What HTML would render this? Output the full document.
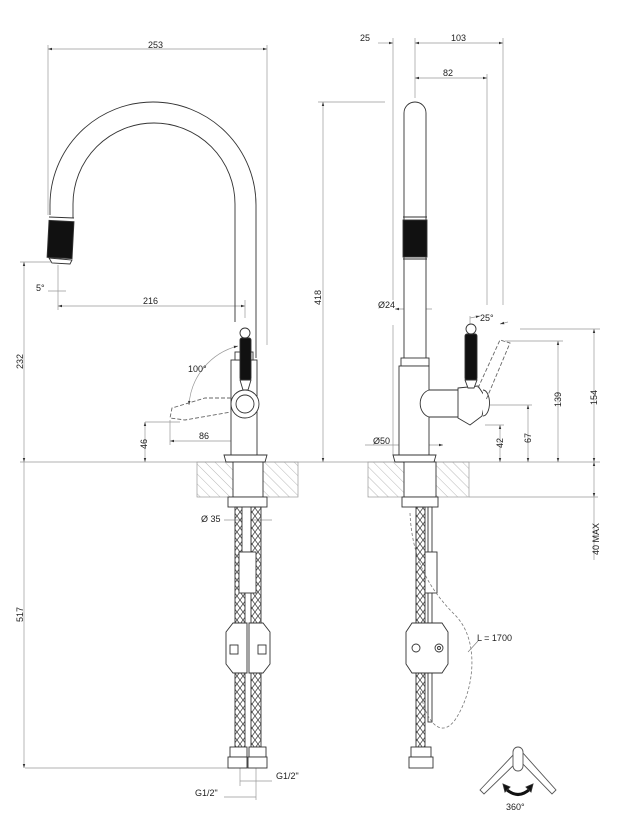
<!DOCTYPE html>
<html><head><style>
html,body{margin:0;padding:0;background:#fff}
svg{display:block}
text{font-family:"Liberation Sans",sans-serif;font-size:9px;fill:#222}
</style></head><body>
<svg width="621" height="827" viewBox="0 0 621 827" xmlns="http://www.w3.org/2000/svg">
<defs>
<pattern id="hatch" width="7" height="7" patternUnits="userSpaceOnUse" patternTransform="rotate(-45)">
<line x1="0" y1="0" x2="0" y2="7" stroke="#999" stroke-width="0.7"/></pattern>
<pattern id="braid" width="6" height="8" patternUnits="userSpaceOnUse">
<path d="M0,0 L6,8 M6,0 L0,8" stroke="#444" stroke-width="0.8"/></pattern>
<marker id="a" viewBox="0 0 10 10" refX="10" refY="5" markerWidth="6" markerHeight="6" orient="auto-start-reverse"><path d="M0,2 L10,5 L0,8z" fill="#333"/></marker>
</defs>

<g stroke="#999" stroke-width="0.7" fill="none">
<!-- floor line -->
<line x1="20" y1="462" x2="600" y2="462"/>
<!-- left dims -->
<line x1="48" y1="45" x2="48" y2="215"/>
<line x1="267" y1="45" x2="267" y2="345"/>
<line x1="48" y1="49" x2="267" y2="49" marker-start="url(#a)" marker-end="url(#a)"/>
<line x1="20" y1="262" x2="55" y2="262"/>
<line x1="24" y1="262" x2="24" y2="462" marker-start="url(#a)" marker-end="url(#a)"/>
<line x1="24" y1="462" x2="24" y2="768" marker-end="url(#a)"/>
<line x1="25" y1="768" x2="235" y2="768"/>
<line x1="58" y1="265" x2="58" y2="310"/>
<line x1="48" y1="291" x2="66" y2="291"/>
<line x1="58" y1="306" x2="245" y2="306" marker-start="url(#a)" marker-end="url(#a)"/>
<line x1="245" y1="300" x2="245" y2="318"/>
<line x1="145" y1="422" x2="180" y2="422"/>
<line x1="145" y1="422" x2="145" y2="462" marker-start="url(#a)" marker-end="url(#a)"/>
<line x1="170" y1="420" x2="170" y2="445"/>
<line x1="170" y1="441" x2="245" y2="441" marker-start="url(#a)" marker-end="url(#a)"/>
<path d="M238,346 A65,65 0 0 0 189,405" marker-start="url(#a)" marker-end="url(#a)"/>
<line x1="224" y1="520" x2="272" y2="520"/>
<line x1="240" y1="781" x2="272" y2="781"/>
<line x1="240" y1="768" x2="240" y2="786"/>
<line x1="224" y1="797" x2="256" y2="797"/>
<line x1="256" y1="768" x2="256" y2="800"/>
<!-- right dims -->
<line x1="393" y1="38" x2="393" y2="300"/>
<line x1="393" y1="325" x2="393" y2="455"/>
<line x1="415" y1="38" x2="415" y2="98"/>
<line x1="487" y1="74" x2="487" y2="305"/>
<line x1="503" y1="38" x2="503" y2="305"/>
<line x1="378" y1="43" x2="393" y2="43" marker-end="url(#a)"/>
<line x1="415" y1="43" x2="503" y2="43" marker-start="url(#a)" marker-end="url(#a)"/>
<line x1="415" y1="78" x2="487" y2="78" marker-start="url(#a)" marker-end="url(#a)"/>
<line x1="318" y1="102" x2="385" y2="102"/>
<line x1="323" y1="102" x2="323" y2="462" marker-start="url(#a)" marker-end="url(#a)"/>
<line x1="395" y1="309" x2="432" y2="309" marker-start="url(#a)"/>
<line x1="365" y1="445" x2="443" y2="445" marker-end="url(#a)"/>
<line x1="520" y1="329" x2="600" y2="329"/>
<line x1="505" y1="341" x2="563" y2="341"/>
<line x1="490" y1="405" x2="532" y2="405"/>
<line x1="485" y1="425" x2="504" y2="425"/>
<line x1="594" y1="329" x2="594" y2="462" marker-start="url(#a)" marker-end="url(#a)"/>
<line x1="558" y1="341" x2="558" y2="462" marker-start="url(#a)" marker-end="url(#a)"/>
<line x1="528" y1="405" x2="528" y2="462" marker-start="url(#a)" marker-end="url(#a)"/>
<line x1="500" y1="425" x2="500" y2="462" marker-start="url(#a)" marker-end="url(#a)"/>
<line x1="594" y1="462" x2="594" y2="497" marker-start="url(#a)" marker-end="url(#a)"/>
<line x1="469" y1="497" x2="598" y2="497"/>
<line x1="594" y1="497" x2="594" y2="560"/>
<line x1="470" y1="332" x2="470" y2="316"/>
<path d="M470,318 L480,316" marker-end="url(#a)"/>
<path d="M508,322 L500,324" marker-end="url(#a)"/>
</g>

<g font-size="9">
<text x="148" y="48">253</text>
<text x="36" y="291">5°</text>
<text x="143" y="304">216</text>
<text x="188" y="372">100°</text>
<text x="199" y="439">86</text>
<text transform="translate(23,369) rotate(-90)">232</text>
<text transform="translate(147,449) rotate(-90)">46</text>
<text transform="translate(23,622) rotate(-90)">517</text>
<text x="201" y="522">Ø 35</text>
<text x="276" y="779">G1/2"</text>
<text x="195" y="796">G1/2"</text>
<text x="360" y="41">25</text>
<text x="451" y="41">103</text>
<text x="443" y="76">82</text>
<text transform="translate(321,305) rotate(-90)">418</text>
<text x="378" y="308">Ø24</text>
<text x="373" y="444">Ø50</text>
<text x="480" y="321">25°</text>
<text transform="translate(561,407) rotate(-90)">139</text>
<text transform="translate(597,405) rotate(-90)">154</text>
<text transform="translate(531,443) rotate(-90)">67</text>
<text transform="translate(503,448) rotate(-90)">42</text>
<text transform="translate(599,555) rotate(-90)">40 MAX</text>
<text x="477" y="641">L = 1700</text>
<text x="506" y="810" font-size="10">360°</text>
</g>

<!-- countertops -->
<rect x="197" y="462" width="101" height="35" fill="url(#hatch)" stroke="#999" stroke-width="0.7"/>
<rect x="368" y="462" width="101" height="35" fill="url(#hatch)" stroke="#999" stroke-width="0.7"/>

<g stroke="#333" stroke-width="0.9" fill="#fff">
<!-- LEFT VIEW -->
<path d="M50,215 L50,205 A103,103 0 0 1 256,205 L256,358" fill="none"/>
<path d="M73,218 L73,204 A81,81 0 0 1 235,204 L235,322" fill="none"/>
<rect x="48" y="221" width="25" height="37" fill="#111" transform="rotate(3 60 240)"/>
<line x1="49" y1="217" x2="74" y2="218"/>
<path d="M49,258 L72,260 L70,264 L52,263z"/>
<!-- body -->
<rect x="231" y="360" width="26" height="95"/>
<rect x="235" y="352" width="18" height="8"/>
<path d="M224,455 L267,455 L265,462 L226,462z"/>
<circle cx="245" cy="333" r="5"/>
<rect x="240" y="338" width="11" height="42" fill="#111" rx="2"/>
<path d="M240,380 L251,380 L248,390 L243,390z"/>
<circle cx="245" cy="404" r="14"/>
<circle cx="245" cy="404" r="9"/>
<path d="M231,398 L205,398 L172,408 L170,418 L185,420 L231,412" fill="none" stroke-dasharray="4 2" stroke="#666"/>
<!-- below left -->
<rect x="233" y="462" width="30" height="35"/>
<rect x="228" y="497" width="39" height="10"/>
<rect x="235" y="507" width="10" height="240" fill="url(#braid)"/>
<rect x="251" y="507" width="10" height="240" fill="url(#braid)"/>
<rect x="242" y="507" width="9" height="45"/>
<rect x="239" y="552" width="17" height="41"/>
<path d="M226,632 L233,623 L247,623 L247,673 L233,673 L226,664z"/>
<path d="M270,632 L263,623 L249,623 L249,673 L263,673 L270,664z"/>
<rect x="230" y="645" width="8" height="9" fill="none"/>
<rect x="258" y="645" width="8" height="9" fill="none"/>
<rect x="230" y="747" width="17" height="10"/><rect x="249" y="747" width="17" height="10"/>
<rect x="228" y="757" width="19" height="11"/><rect x="248" y="757" width="19" height="11"/>

<!-- RIGHT VIEW -->
<path d="M404,358 L404,113 A11,11 0 0 1 426,113 L426,358"/>
<rect x="403" y="220" width="24" height="37" fill="#111"/>
<line x1="403" y1="217" x2="427" y2="217"/>
<line x1="403" y1="259" x2="427" y2="259"/>
<rect x="401" y="358" width="28" height="8"/>
<rect x="399" y="366" width="30" height="89"/>
<path d="M393,455 L436,455 L434,462 L395,462z"/>
<path d="M429,390 L462,390 L462,417 L429,417 A12,14 0 0 1 429,390z"/>
<path d="M458,388 L478,386 L486,398 L482,416 L470,425 L458,418z"/>
<path d="M483,390 A6,12 0 0 1 483,416"/>
<circle cx="471" cy="329" r="5"/>
<rect x="465" y="334" width="12" height="46" fill="#111" rx="2"/>
<path d="M465,380 L477,380 L474,388 L468,388z"/>
<path d="M478,388 L500,340 L510,343 L486,400" fill="none" stroke-dasharray="4 2" stroke="#666"/>
<!-- below right -->
<rect x="404" y="462" width="32" height="35"/>
<rect x="402" y="497" width="36" height="10"/>
<rect x="428" y="507" width="4" height="215"/>
<rect x="416" y="507" width="9" height="240" fill="url(#braid)"/>
<rect x="425" y="552" width="12" height="41"/>
<path d="M406,632 L412,623 L442,623 L448,632 L448,664 L442,673 L412,673 L406,664z"/>
<circle cx="416" cy="648" r="4" fill="none"/>
<circle cx="439" cy="648" r="4" fill="none"/><circle cx="439" cy="648" r="1.5" fill="none"/>
<rect x="411" y="747" width="20" height="10"/>
<rect x="409" y="757" width="24" height="11"/>
<path d="M410,513 C412,560 430,590 455,615 C480,640 475,690 455,720 C440,740 425,720 420,690" fill="none" stroke="#777" stroke-dasharray="3 2" stroke-width="0.8"/>
<line x1="468" y1="652" x2="478" y2="641" stroke="#777" stroke-width="0.6"/>

<!-- 360 symbol -->
<path d="M480,790 L516,752 L522,752 L556,790 L552,794 L519,760 L484,794z" fill="#fff" stroke="#555"/>
<rect x="513" y="747" width="10" height="24" rx="5" fill="#fff" stroke="#555"/>
<path d="M506,789 Q518,800 530,789" fill="none" stroke="#111" stroke-width="3"/>
<path d="M503,784 L505,792 L510,787z M533,784 L531,792 L526,787z" fill="#111"/>
</g>
</svg>
</body></html>
